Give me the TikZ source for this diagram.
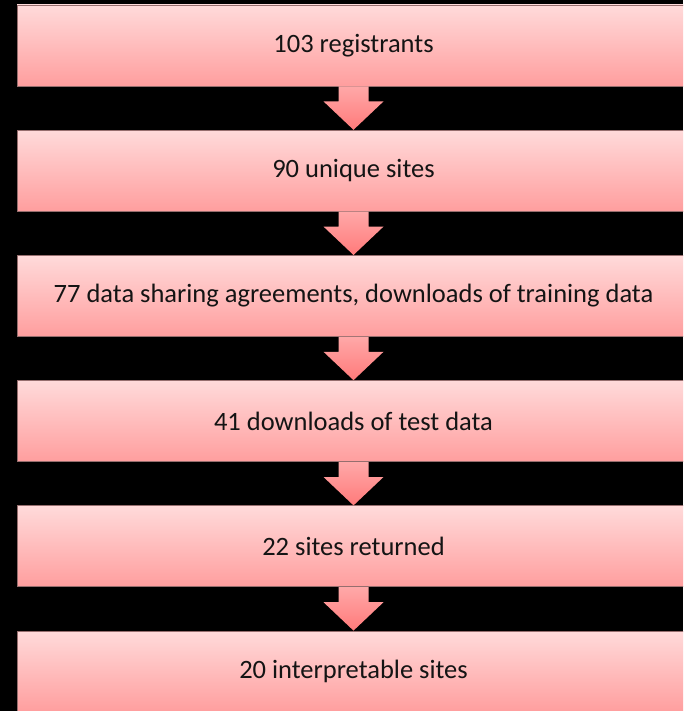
\documentclass[tikz,border=0pt]{standalone}
\usepackage{fontspec}
\setmainfont{Carlito}
\usetikzlibrary{positioning,calc}
\definecolor{boxtop}{RGB}{255,218,218}
\definecolor{boxbottom}{RGB}{255,158,158}
\definecolor{boxline}{RGB}{150,110,110}
\definecolor{arrowtop}{RGB}{255,168,168}
\definecolor{arrowbottom}{RGB}{255,122,122}

\begin{document}
\begin{tikzpicture}[x=1pt, y=1pt, node distance=125.2pt,
                    stage/.style={rectangle,draw=boxline,line width=0.8pt,top color=boxtop,bottom color=boxbottom,
                                  minimum width=673pt,minimum height=81pt,text=black!92,font=\fontsize{26.5}{32}\selectfont},
                    flow/.style={top color=arrowtop,bottom color=arrowbottom,draw=none}]

  \fill[black] (0,0) rectangle (683,-711);
  \clip (0,0) rectangle (683,-711);

  \node[stage] (r1) at (353.5,-45.5) {103 registrants};
  \node[stage] (r2) [below of=r1] {90 unique sites};
  \node[stage] (r3) [below of=r2] {77 data sharing agreements, downloads of training data};
  \node[stage] (r4) [below of=r3] {41 downloads of test data};
  \node[stage] (r5) [below of=r4] {22 sites returned};
  \node[stage] (r6) [below of=r5] {20 interpretable sites};

  % block arrows between the stages
  \foreach \a/\b in {r1/r2,r2/r3,r3/r4,r4/r5,r5/r6}
    \shade[flow] ($(\a.south)+(-15,0)$) -- ($(\a.south)+(15,0)$) -- ++(0,-15) -- ++(15,0)
                 -- (\b.north) -- ($(\a.south)+(-30,-15)$) -- ++(15,0) -- cycle;
\end{tikzpicture}
\end{document}
